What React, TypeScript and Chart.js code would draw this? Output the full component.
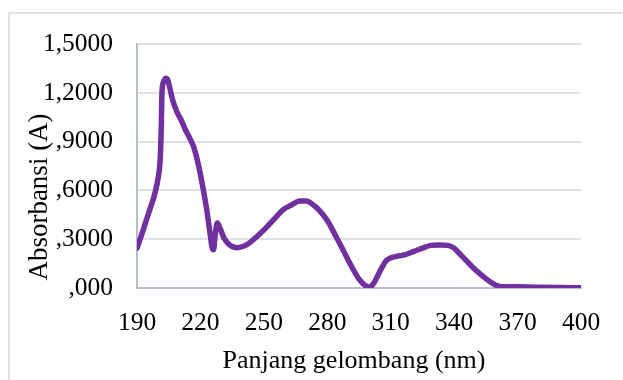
import React, { useEffect, useRef } from "react";
import { Chart, registerables } from "chart.js";

Chart.register(...registerables);

const wavelengths = [
  190, 192, 194, 196, 198, 199.5, 200.5, 201, 201.5, 201.8, 202.5, 203.5, 204.5, 205.5, 207, 209, 211, 213, 215, 217,
  219, 221, 223, 224.5, 225.5, 226.2, 227, 228, 229.5, 231, 233, 235, 237, 240, 243, 247, 251, 255, 259, 263,
  267, 270, 273, 276, 280, 284, 288, 292, 295, 298, 300, 302, 304, 306, 308, 310, 313, 317, 321, 325,
  329, 333, 337, 340, 343, 346, 349, 352, 355, 358, 361, 364, 370, 380, 390, 400,
];
const absorbance = [
  0.245, 0.32, 0.4, 0.48, 0.56, 0.64, 0.72, 0.8, 1.0, 1.2, 1.265, 1.29, 1.28, 1.23, 1.15, 1.08, 1.03, 0.97, 0.92, 0.86,
  0.76, 0.63, 0.48, 0.34, 0.25, 0.235, 0.33, 0.4, 0.36, 0.31, 0.275, 0.255, 0.248, 0.255, 0.275, 0.32, 0.37, 0.425, 0.48, 0.51,
  0.535, 0.535, 0.515, 0.48, 0.415, 0.32, 0.22, 0.12, 0.055, 0.015, 0.005, 0.03, 0.08, 0.13, 0.17, 0.185, 0.195, 0.205, 0.225, 0.245,
  0.262, 0.265, 0.262, 0.245, 0.205, 0.165, 0.125, 0.09, 0.058, 0.03, 0.012, 0.007, 0.008, 0.005, 0.003, 0.002,
];
const xTickValues = [190, 220, 250, 280, 310, 340, 370, 400];
const yTickValues = [0, 0.3, 0.6, 0.9, 1.2, 1.5];
const yTickLabels = [",000", ",3000", ",6000", ",9000", "1,2000", "1,5000"];
const xTitle = "Panjang gelombang (nm)";
const yTitle = "Absorbansi (A)";

const FONT = "'Liberation Serif', 'Times New Roman', serif";

const decorPlugin = {
  id: "decor",
  beforeDraw(chart: any) {
    const ctx = chart.ctx;
    ctx.save();
    ctx.strokeStyle = "#dde2e9";
    ctx.lineWidth = 2;
    ctx.strokeRect(9, 13, 800, 600);
    ctx.restore();
  },
  afterDraw(chart: any) {
    const ctx = chart.ctx;
    ctx.save();
    ctx.fillStyle = "#000";
    ctx.textAlign = "center";
    ctx.font = `26px ${FONT}`;
    ctx.textBaseline = "alphabetic";
    ctx.fillText(xTitle, 354, 367.5);
    ctx.font = `27px ${FONT}`;
    ctx.textBaseline = "middle";
    ctx.translate(40, 197);
    ctx.rotate(-Math.PI / 2);
    ctx.fillText(yTitle, 0, 0);
    ctx.restore();
  },
};

export default function App() {
  const ref = useRef<HTMLCanvasElement>(null);
  useEffect(() => {
    if (!ref.current) return;
    const chart = new Chart(ref.current, {
      type: "line",
      data: {
        datasets: [
          {
            data: wavelengths.map((x, i) => ({ x, y: absorbance[i] })),
            borderColor: "#7030A0",
            borderWidth: 5.5,
            pointRadius: 0,
            cubicInterpolationMode: "monotone",
            borderCapStyle: "round",
            borderJoinStyle: "round",
          },
        ],
      },
      plugins: [decorPlugin],
      options: {
        animation: false,
        responsive: false,
        layout: { padding: { top: 44, right: 42, left: 0, bottom: 0 } },
        plugins: { legend: { display: false }, tooltip: { enabled: false } },
        scales: {
          x: {
            type: "linear",
            min: 190,
            max: 400,
            afterBuildTicks: (axis: any) => {
              axis.ticks = xTickValues.map((v) => ({ value: v }));
            },
            afterFit: (scale: any) => {
              scale.height = 92;
            },
            grid: { display: false, drawTicks: false },
            border: { display: true, color: "#b4bfcf", width: 2 },
            ticks: {
              font: { family: FONT, size: 25.5 },
              color: "#000",
              padding: 20,
              maxRotation: 0,
              autoSkip: false,
            },
          },
          y: {
            min: 0,
            max: 1.5,
            afterBuildTicks: (axis: any) => {
              axis.ticks = yTickValues.map((v) => ({ value: v }));
            },
            afterFit: (scale: any) => {
              scale.width = 137;
            },
            grid: { color: "#dde2e9", lineWidth: 2, drawTicks: false },
            border: { display: true, color: "#b4bfcf", width: 2 },
            ticks: {
              font: { family: FONT, size: 25.5 },
              color: "#000",
              padding: 24,
              autoSkip: false,
              callback: (v: any) => {
                const idx = yTickValues.findIndex((t) => Math.abs(t - Number(v)) < 1e-6);
                return idx >= 0 ? yTickLabels[idx] : "";
              },
            },
          },
        },
      },
    });
    return () => chart.destroy();
  }, []);
  return (
    <div style={{ position: "absolute", left: 0, top: 0, width: 623, height: 380, background: "#fff" }}>
      <canvas ref={ref} width={623} height={380} style={{ width: 623, height: 380, display: "block" }} />
    </div>
  );
}
